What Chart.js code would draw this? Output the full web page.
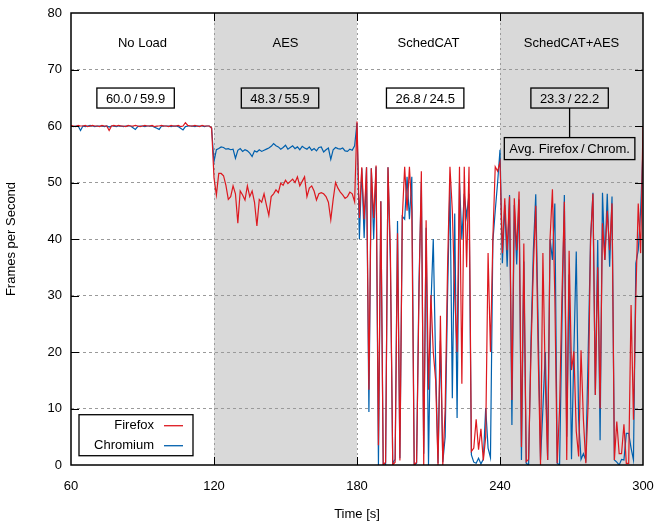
<!DOCTYPE html>
<html>
<head>
<meta charset="utf-8">
<script src="https://cdn.jsdelivr.net/npm/chart.js@4.4.0/dist/chart.umd.min.js"></script>
<style>
  html, body { margin: 0; padding: 0; background: #fff; }
</style>
</head>
<body>
<canvas id="fps" width="654" height="523"></canvas>
<script>
// sampling of the traces (one value per second)
const startTime = 60;
const sampleStep = 1;

const phases = ['No Load', 'AES', 'SchedCAT', 'SchedCAT+AES'];
const phaseStart = [60, 120, 180, 240];
const phaseEnd = [120, 180, 240, 300];
const shadedPhase = [false, true, false, true];
const avgFirefox = ['60.0', '48.3', '26.8', '23.3'];
const avgChromium = ['59.9', '55.9', '24.5', '22.2'];
const xTicks = [60, 120, 180, 240, 300];
const yTicks = [0, 10, 20, 30, 40, 50, 60, 70, 80];

// Firefox, 60..119 s
const firefoxNoLoad = [
  60.1, 60.0, 59.9, 60.1, 60.0, 60.0, 60.1, 59.9, 60.0, 60.1,
  60.0, 60.0, 59.9, 60.1, 60.0, 60.0, 59.2, 60.0, 60.1, 60.0,
  60.1, 60.0, 60.0, 59.9, 60.1, 60.0, 60.0, 60.1, 60.0, 59.9,
  60.0, 60.1, 60.0, 60.0, 60.1, 59.9, 60.0, 60.0, 60.1, 60.0,
  60.0, 59.9, 60.1, 60.0, 60.0, 60.1, 59.9, 60.0, 60.6, 60.1,
  60.0, 60.0, 60.1, 60.0, 59.9, 60.1, 60.0, 60.0, 60.0, 59.7
];
// Firefox, 120..179 s
const firefoxAES = [
  50.8, 47.8, 51.6, 51.6, 51.2, 49.5, 47.0, 47.5, 49.4, 48.0,
  42.8, 48.5, 47.8, 46.9, 49.4, 47.5, 48.5, 46.5, 42.3, 47.0,
  46.5, 48.0, 46.0, 44.2, 47.5, 48.0, 48.7, 48.2, 49.9, 49.5,
  50.4, 49.8, 50.2, 50.6, 50.0, 51.0, 49.4, 50.2, 51.0, 47.5,
  49.0, 49.4, 48.5, 46.9, 48.0, 48.2, 48.0, 47.5, 46.5, 43.4,
  47.0, 50.0, 49.0, 48.3, 47.8, 47.2, 47.5, 48.3, 48.0, 46.6
];
// Firefox, 180..239 s
const firefoxSchedCAT = [
  60.8, 43.7, 52.7, 43.5, 52.7, 13.3, 52.5, 43.7, 53.0, 3.5,
  46.7, 0.0, 0.5, 52.7, 38.0, 0.0, 0.5, 41.0, 0.8, 43.7,
  52.8, 45.0, 52.8, 45.0, 0.0, 0.5, 30.0, 52.0, 0.0, 43.3,
  13.3, 30.1, 20.0, 15.0, 0.0, 26.4, 0.0, 10.0, 35.0, 52.8,
  45.0, 30.0, 20.0, 52.8, 14.4, 52.8, 35.0, 52.8, 2.4, 3.0,
  8.1, 2.7, 6.4, 0.8, 5.0, 37.5, 20.0, 40.0, 52.8, 52.0
];
// Firefox, 240..300 s
const firefoxSchedAES = [
  53.6, 37.5, 47.2, 38.0, 47.5, 11.5, 47.2, 38.0, 48.4, 3.2,
  39.2, 0.6, 1.0, 20.0, 35.0, 45.9, 20.0, 0.0, 37.5, 15.0,
  0.9, 40.0, 48.8, 30.0, 0.3, 10.0, 30.0, 46.6, 0.9, 37.9,
  16.8, 20.1, 6.0, 1.5, 20.3, 8.0, 0.3, 11.0, 40.0, 48.0,
  12.4, 35.0, 10.0, 42.8, 36.3, 45.0, 38.0, 46.3, 0.9, 7.7,
  2.0, 2.0, 7.2, 0.3, 0.3, 28.3, 8.0, 30.0, 46.3, 37.5,
  60.0
];

// Chromium, 60..119 s
const chromiumNoLoad = [
  60.0, 59.9, 60.0, 60.0, 59.2, 60.0, 59.9, 60.0, 60.1, 60.0,
  59.9, 60.0, 60.0, 60.0, 59.9, 60.0, 59.8, 60.0, 60.0, 59.9,
  60.0, 60.0, 59.9, 60.0, 60.0, 60.0, 59.7, 59.4, 59.9, 60.0,
  60.0, 59.9, 60.0, 60.0, 60.0, 59.8, 59.6, 59.4, 60.0, 60.0,
  60.0, 60.0, 59.9, 60.0, 60.0, 59.9, 59.6, 59.3, 59.9, 60.0,
  60.0, 60.0, 59.9, 60.0, 60.0, 60.0, 59.9, 60.0, 60.0, 59.6
];
// Chromium, 120..179 s
const chromiumAES = [
  53.7, 55.8, 56.0, 56.3, 56.2, 55.9, 56.0, 55.8, 55.9, 54.3,
  55.7, 56.0, 55.5, 55.8, 55.6, 55.2, 54.6, 55.6, 55.4, 55.8,
  55.5, 55.7, 55.9, 56.1, 56.4, 56.9, 56.5, 56.3, 55.9, 56.2,
  56.6, 55.9, 56.2, 56.5, 56.0, 56.3, 55.8, 56.4, 56.1, 55.9,
  56.3, 55.7, 56.0, 55.6, 56.2, 56.3, 55.4, 55.8, 56.1, 54.1,
  55.8, 56.2, 56.0, 55.9, 56.1, 55.6, 55.5, 55.9, 55.7, 56.5
];
// Chromium, 180..239 s
const chromiumSchedCAT = [
  60.5, 40.0, 52.5, 40.2, 52.7, 9.4, 52.5, 40.0, 52.8, 0.0,
  46.7, 0.0, 0.0, 52.7, 36.0, 0.3, 1.0, 43.2, 1.2, 44.0,
  43.5, 51.0, 43.5, 51.0, 0.0, 0.3, 32.0, 50.0, 2.0, 42.0,
  0.0, 28.0, 40.0, 18.0, 0.3, 22.0, 0.5, 5.0, 30.0, 50.0,
  11.8, 44.5, 8.3, 50.0, 40.0, 48.0, 44.0, 48.0, 1.8, 0.5,
  0.3, 1.2, 0.2, 1.0, 10.1, 3.0, 1.3, 39.5, 45.0, 50.0
];
// Chromium, 240..300 s
const chromiumSchedAES = [
  55.8, 35.7, 46.0, 35.1, 47.8, 7.1, 46.0, 35.5, 47.0, 0.9,
  36.0, 0.3, 0.0, 22.0, 38.0, 47.9, 25.0, 0.9, 10.0, 20.0,
  0.9, 40.0, 36.3, 46.3, 0.3, 0.0, 25.0, 47.8, 5.0, 33.7,
  1.0, 20.0, 37.8, 8.0, 1.0, 2.0, 0.9, 20.0, 40.0, 48.2,
  12.4, 39.8, 4.4, 48.2, 36.3, 48.0, 35.1, 47.5, 0.9, 0.5,
  0.0, 1.0, 0.9, 5.6, 5.6, 3.0, 0.9, 35.7, 38.0, 45.0,
  56.0
];

const firefox = [...firefoxNoLoad, ...firefoxAES, ...firefoxSchedCAT, ...firefoxSchedAES];
const chromium = [...chromiumNoLoad, ...chromiumAES, ...chromiumSchedCAT, ...chromiumSchedAES];
const toPoints = arr => arr.map((v, i) => ({ x: startTime + i * sampleStep, y: v }));

const FIREFOX_RED = '#dd181f';
const CHROMIUM_BLUE = '#0060ad';
const SHADE = '#d9d9d9';
const FONT = "'Liberation Sans', Arial, sans-serif";

Chart.defaults.font.family = FONT;
Chart.defaults.font.size = 13;
Chart.defaults.color = '#000';

// grey background for the loaded phases
const shadePlugin = {
    id: 'shade',
    beforeDraw(chart) {
        const { ctx, chartArea: a, scales: { x } } = chart;
        ctx.save();
        ctx.fillStyle = SHADE;
        phases.forEach((p, i) => {
            if (!shadedPhase[i]) return;
            const l = x.getPixelForValue(phaseStart[i]);
            const r = x.getPixelForValue(phaseEnd[i]);
            ctx.fillRect(l, a.top, r - l, a.bottom - a.top);
        });
        ctx.restore();
    }
};

// frame, inward ticks, phase labels, averages and legend
const decorPlugin = {
    id: 'decor',
    afterDraw(chart) {
        const { ctx, chartArea: a, scales: { x, y } } = chart;
        ctx.save();
        ctx.strokeStyle = '#000';
        ctx.lineWidth = 1;
        ctx.beginPath();
        yTicks.slice(1, -1).forEach(v => {
            const py = Math.round(y.getPixelForValue(v)) + 0.5;
            ctx.moveTo(a.left, py); ctx.lineTo(a.left + 8, py);
            ctx.moveTo(a.right, py); ctx.lineTo(a.right - 8, py);
        });
        xTicks.slice(1, -1).forEach(v => {
            const px = Math.round(x.getPixelForValue(v)) + 0.5;
            ctx.moveTo(px, a.bottom); ctx.lineTo(px, a.bottom - 8);
            ctx.moveTo(px, a.top); ctx.lineTo(px, a.top + 8);
        });
        ctx.stroke();

        ctx.lineWidth = 1.5;
        ctx.strokeRect(a.left, a.top, a.right - a.left, a.bottom - a.top);

        ctx.font = '13px ' + FONT;
        ctx.fillStyle = '#000';
        ctx.textAlign = 'center';
        ctx.textBaseline = 'middle';
        const labelY = y.getPixelForValue(74.7);
        const boxY = y.getPixelForValue(64.95);
        const boxCentre = [87.1, 147.7, 208.6, 269.2];
        let lastBox = null;
        phases.forEach((p, i) => {
            const cx = (x.getPixelForValue(phaseStart[i]) + x.getPixelForValue(phaseEnd[i])) / 2;
            ctx.fillText(p, cx, labelY);
            const txt = avgFirefox[i] + '\u2009/\u2009' + avgChromium[i];
            const bx = x.getPixelForValue(boxCentre[i]);
            const w = ctx.measureText(txt).width + 18;
            ctx.fillStyle = shadedPhase[i] ? SHADE : '#fff';
            ctx.fillRect(bx - w / 2, boxY - 10, w, 20);
            ctx.lineWidth = 1.3;
            ctx.strokeRect(bx - w / 2, boxY - 10, w, 20);
            ctx.fillStyle = '#000';
            ctx.fillText(txt, bx, boxY + 1);
            lastBox = { bx, bottom: boxY + 10 };
        });

        // explanation box under the last average
        const key = 'Avg. Firefox\u2009/\u2009Chrom.';
        const kw = ctx.measureText(key).width + 10;
        const ky = y.getPixelForValue(56.0);
        ctx.beginPath();
        ctx.moveTo(lastBox.bx, lastBox.bottom);
        ctx.lineTo(lastBox.bx, ky - 11);
        ctx.stroke();
        ctx.fillStyle = SHADE;
        ctx.fillRect(lastBox.bx - kw / 2, ky - 11, kw, 22);
        ctx.strokeRect(lastBox.bx - kw / 2, ky - 11, kw, 22);
        ctx.fillStyle = '#000';
        ctx.fillText(key, lastBox.bx, ky + 1);

        // legend
        const lx = a.left + 8, ly = y.getPixelForValue(8.9);
        const lw = 114, lh = 41;
        ctx.fillStyle = '#fff';
        ctx.fillRect(lx, ly, lw, lh);
        ctx.lineWidth = 1.3;
        ctx.strokeRect(lx, ly, lw, lh);
        ctx.textAlign = 'right';
        [['Firefox', FIREFOX_RED], ['Chromium', CHROMIUM_BLUE]].forEach(([name, col], i) => {
            const ry = ly + 10.5 + i * 20;
            ctx.fillStyle = '#000';
            ctx.fillText(name, lx + 75, ry);
            ctx.strokeStyle = col;
            ctx.lineWidth = 1.3;
            ctx.beginPath();
            ctx.moveTo(lx + 85, ry + 0.5);
            ctx.lineTo(lx + 104, ry + 0.5);
            ctx.stroke();
        });
        ctx.restore();
    }
};

const hideEdges = (lo, hi) => ctx =>
    (ctx.tick && (ctx.tick.value === lo || ctx.tick.value === hi)) ? 'rgba(0,0,0,0)' : '#9a9a9a';

new Chart(document.getElementById('fps'), {
    type: 'line',
    data: {
        datasets: [
            {
                label: 'Firefox',
                data: toPoints(firefox),
                borderColor: FIREFOX_RED,
                borderWidth: 1.2,
                pointRadius: 0,
                tension: 0
            },
            {
                label: 'Chromium',
                data: toPoints(chromium),
                borderColor: CHROMIUM_BLUE,
                borderWidth: 1.2,
                pointRadius: 0,
                tension: 0
            }
        ]
    },
    options: {
        responsive: false,
        animation: false,
        layout: { padding: { top: 13, right: 11, left: 0, bottom: 0 } },
        plugins: { legend: { display: false }, tooltip: { enabled: false } },
        scales: {
            x: {
                type: 'linear',
                min: 60,
                max: 300,
                afterBuildTicks: s => { s.ticks = xTicks.map(v => ({ value: v })); },
                afterFit: s => { s.height = 58; s.paddingLeft = 0; s.paddingRight = 0; },
                ticks: { padding: 14, maxRotation: 0, font: { size: 13 } },
                grid: { color: hideEdges(60, 300), drawTicks: false, lineWidth: 1 },
                border: { display: false, dash: [2, 3] },
                title: { display: true, text: 'Time [s]', font: { size: 13 }, padding: { top: 0, bottom: 1 } }
            },
            y: {
                min: 0,
                max: 80,
                afterBuildTicks: s => { s.ticks = yTicks.map(v => ({ value: v })); },
                afterFit: s => { s.width = 71; s.paddingTop = 0; s.paddingBottom = 0; },
                ticks: { padding: 9, font: { size: 13 } },
                grid: { color: hideEdges(0, 80), drawTicks: false, lineWidth: 1 },
                border: { display: false, dash: [3, 3] },
                title: { display: true, text: 'Frames per Second', font: { size: 13 }, padding: { top: 4, bottom: 0 } }
            }
        }
    },
    plugins: [shadePlugin, decorPlugin]
});
</script>
</body>
</html>
